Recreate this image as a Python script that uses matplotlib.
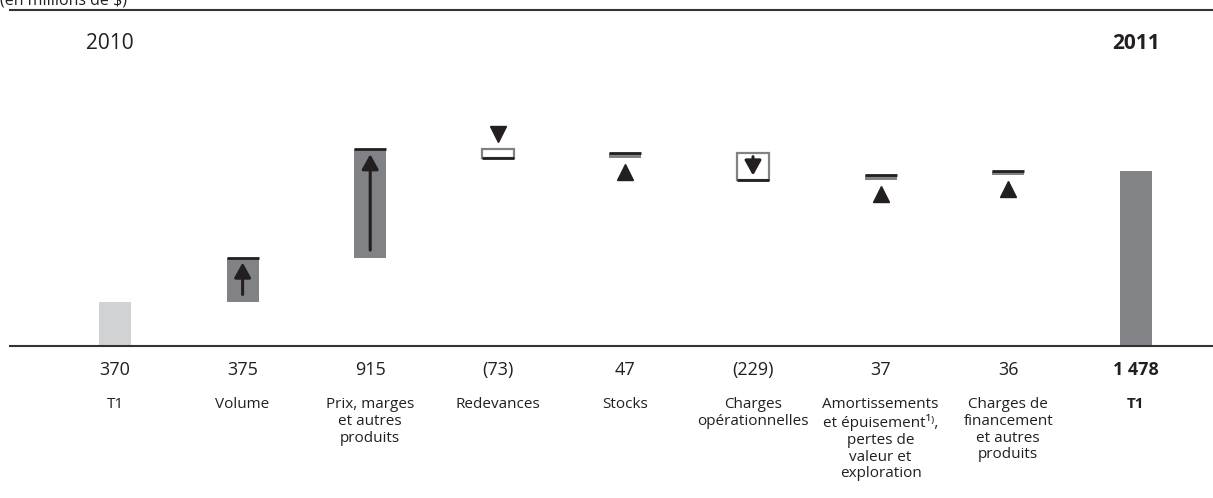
import matplotlib.pyplot as plt

plt.rcParams['font.family'] = ['Open Sans', 'DejaVu Sans']

# data (millions de $)
categories = ['T1', 'Volume', 'Prix, marges\net autres\nproduits', 'Redevances', 'Stocks',
              'Charges\nopérationnelles',
              'Amortissements\net épuisement¹⁾,\npertes de\nvaleur et\nexploration',
              'Charges de\nfinancement\net autres\nproduits', 'T1']
values = [370, 375, 915, -73, 47, -229, 37, 36, 1478]
value_labels = ['370', '375', '915', '(73)', '47', '(229)', '37', '36', '1 478']

dark = '#231f20'
bar_gray = '#808285'
light_gray = '#d1d2d4'

fig = plt.figure(figsize=(12.13, 4.98), dpi=100)
ax = fig.add_axes([10 / 1213, 1 - 346 / 498, 1203 / 1213, 336 / 498])
ax.set_xlim(-0.823, 8.605)
ax.set_ylim(0, 2838)
ax.axis('off')

w = 0.25
n = len(values)
arrow = dict(arrowstyle='-|>,head_width=0.5,head_length=0.9', color=dark, lw=2.2,
             shrinkA=0, shrinkB=0)
running = 0
for i, v in enumerate(values):
    if i == 0:
        ax.bar(i, v, width=w, color=light_gray)
        running = v
        continue
    if i == n - 1:
        ax.bar(i, v, width=w, color='#838487')
        continue
    lo, hi = min(running, running + v), max(running, running + v)
    x0, x1 = i - w / 2, i + w / 2
    if v > 0:
        ax.bar(i, hi - lo, bottom=lo, width=w, color=bar_gray)
        ax.plot([x0, x1], [hi, hi], color=dark, lw=2, solid_capstyle='butt')
    else:
        ax.bar(i, hi - lo, bottom=lo, width=w, facecolor='white', edgecolor=bar_gray, lw=1.6)
        ax.plot([x0, x1], [lo, lo], color=dark, lw=2, solid_capstyle='butt')
    # arrows
    if hi - lo > 200:
        if v > 0:
            ax.annotate('', xy=(i, hi - 40), xytext=(i, lo + 65), arrowprops=arrow)
        else:
            ax.annotate('', xy=(i, lo + 35), xytext=(i, hi - 35), arrowprops=arrow)
    else:
        if v > 0:
            ax.plot(i, lo - 120, marker='^', ms=11, color=dark)
        else:
            ax.plot(i, hi + 130, marker='v', ms=11, color=dark)
    running += v

# lines
ax.plot([0, 1], [0, 0], transform=ax.transAxes, color='#333333', lw=1.5, clip_on=False)
ax.plot([0, 1], [1, 1], transform=ax.transAxes, color='#333333', lw=1.5, clip_on=False)

tr = ax.get_xaxis_transform()
for i in range(n):
    bold = 'bold' if i == n - 1 else 'normal'
    ax.text(i, -0.0714, value_labels[i], transform=tr, ha='center', va='center',
            fontsize=13, color=dark, fontweight=bold)
    ax.text(i, -0.152, categories[i], transform=tr, ha='center', va='top',
            fontsize=11, color=dark, fontweight=bold, linespacing=1.16)

ax.text(-0.04, 0.899, '2010', transform=tr, ha='center', va='center', fontsize=15, color=dark)
ax.text(n - 1, 0.899, '2011', transform=tr, ha='center', va='center', fontsize=15,
        color=dark, fontweight='bold')

fig.text(0.0, 0.998, '(en millions de $)', ha='left', va='center', fontsize=11.5, color=dark)

fig.savefig('out.png', dpi=100)
